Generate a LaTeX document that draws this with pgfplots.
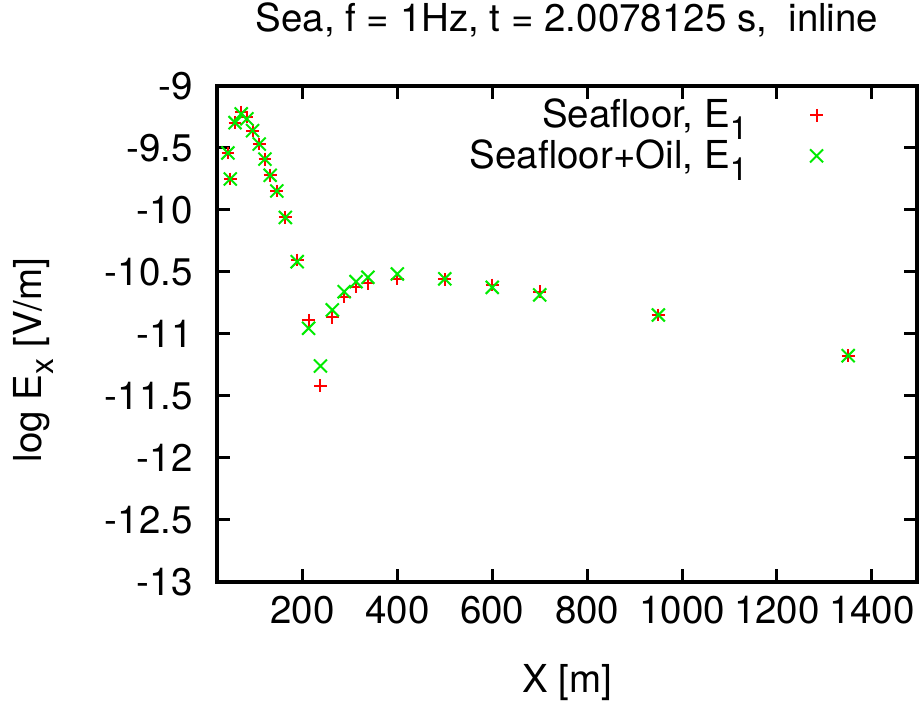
\documentclass[border=0pt]{standalone}
\usepackage{fontspec}
\setmainfont{TeX Gyre Heros}
\usepackage{pgfplots}
\pgfplotsset{compat=1.18}

\definecolor{gpred}{RGB}{255,0,0}
\definecolor{gpgreen}{RGB}{0,235,0}
% lowered, slightly smaller subscript
\newcommand{\sub}[1]{\raisebox{-6pt}{\fontsize{16}{16}\selectfont #1}}

\begin{document}
\fontsize{19.25}{23}\selectfont
\begin{tikzpicture}
\begin{axis}[
  name=main, at={(0,0)}, anchor=south west,
  scale only axis, width=350pt, height=248pt,
  xmin=20, xmax=1495, ymin=-13, ymax=-9,
  xtick={200,400,600,800,1000,1200,1400},
  ytick={-13,-12.5,-12,-11.5,-11,-10.5,-10,-9.5,-9},
  /pgf/number format/assume math mode=true,
  /pgf/number format/1000 sep={},
  tick align=inside, tick pos=both,
  axis line style={line width=2pt},
  every tick/.style={black, line width=1.5pt},
  major tick length=6.5pt,
  xticklabel style={anchor=base, yshift=-21pt, inner sep=0pt},
  yticklabel style={anchor=east, xshift=-12pt, inner sep=0pt},
  title={Sea, f = 1Hz, t = 2.0078125 s, \ inline},
  title style={at={(axis description cs:0.5,1)}, anchor=base, yshift=21pt, inner sep=0pt},
  xlabel={X [m]},
  xlabel style={at={(axis description cs:0.5,0)}, anchor=base, yshift=-55.5pt, inner sep=0pt},
  ylabel={log E\sub{x} [V/m]},
  every axis y label/.style={at={([xshift=-87.5pt,yshift=-13pt]axis description cs:0,0.5)}, rotate=90, anchor=base, inner sep=0pt},
  legend cell align=right, legend plot pos=right,
  legend image code/.code={%
    \path (0pt,-2pt) (17pt,10pt);
    \draw[mark repeat=2,mark phase=2,#1] plot coordinates {(0pt,4pt) (8.5pt,4pt) (17pt,4pt)};},
  legend style={at={(axis description cs:1,1)}, anchor=north east,
    draw=none, fill=none, inner sep=0pt, xshift=-41pt, yshift=-8pt,
    nodes={inner sep=0pt, text height=12pt, text depth=7.5pt},
    /tikz/every odd column/.append style={column sep=25.5pt}},
]
% Seafloor only
\addplot[only marks, mark=+, mark size=3.2pt, color=gpred, line width=1pt] coordinates {
  (43,-9.54) (48,-9.75) (58,-9.296) (71,-9.21) (83,-9.25) (95,-9.36)
  (109,-9.468) (121,-9.59) (132,-9.72) (146,-9.847) (164,-10.06) (189,-10.403)
  (213,-10.89) (238,-11.417) (263,-10.865) (288,-10.70) (313,-10.618) (338,-10.591)
  (400,-10.556) (500,-10.56) (600,-10.605) (700,-10.659) (950,-10.847) (1350,-11.175)
};
\addlegendentry{Seafloor, E\sub{1}}
% Seafloor with the oil layer
\addplot[only marks, mark=x, mark size=4.6pt, color=gpgreen, line width=1pt] coordinates {
  (43,-9.54) (48,-9.75) (58,-9.296) (71,-9.225) (83,-9.265) (95,-9.36)
  (109,-9.468) (121,-9.59) (132,-9.72) (146,-9.847) (164,-10.06) (189,-10.417)
  (213,-10.954) (238,-11.258) (263,-10.806) (288,-10.659) (313,-10.578) (338,-10.543)
  (400,-10.516) (500,-10.555) (600,-10.624) (700,-10.685) (950,-10.847) (1350,-11.175)
};
\addlegendentry{Seafloor+Oil, E\sub{1}}
\end{axis}
\path (-108.5pt,-61pt) rectangle (353pt,291pt);
\end{tikzpicture}
\end{document}
